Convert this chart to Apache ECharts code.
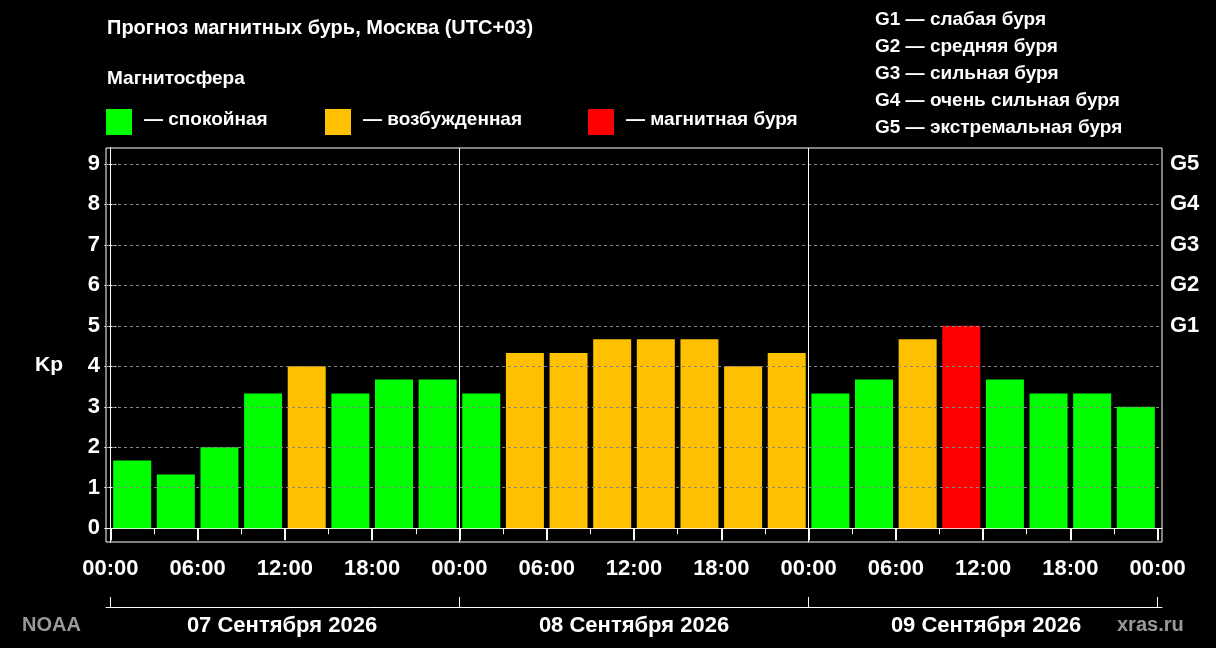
<!DOCTYPE html><html><head><meta charset="utf-8">
<script src="https://cdn.jsdelivr.net/npm/echarts@6/dist/echarts.min.js"></script>
<style>html,body{margin:0;background:#000}#c{width:1216px;height:648px}</style></head><body><div id="c"></div>
<script>
const kp=[1.67,1.33,2,3.33,4,3.33,3.67,3.67, 3.33,4.33,4.33,4.67,4.67,4.67,4,4.33, 3.33,3.67,4.67,5,3.67,3.33,3.33,3];
const level=['q','q','q','q','a','q','q','q', 'q','a','a','a','a','a','a','a', 'q','q','a','s','q','q','q','q'];
const days=['07 Сентября 2026','08 Сентября 2026','09 Сентября 2026'];
const gLabels={5:'G1',6:'G2',7:'G3',8:'G4',9:'G5'};
const gLegend=['G1 — слабая буря','G2 — средняя буря','G3 — сильная буря','G4 — очень сильная буря','G5 — экстремальная буря'];
const colors={q:'#00ff00',a:'#ffc000',s:'#ff0000'};
const F='"Liberation Sans", Arial, sans-serif';
const ch=echarts.init(document.getElementById('c'));
const r=(a,b,s)=>{const o=[];for(let v=a;v<=b;v+=s)o.push(v);return o;};
const xBase={type:'value',min:-0.3,max:72.3,gridIndex:0,position:'bottom'};
const lbl={color:'#fff',fontFamily:F,fontWeight:'bold',fontSize:22};
const gfx=[
 {type:'text',left:107,top:18,style:{text:'Прогноз магнитных бурь, Москва (UTC+03)',fill:'#fff',font:'bold 20px '+F}},
 {type:'text',left:107,top:69,style:{text:'Магнитосфера',fill:'#fff',font:'bold 19px '+F}},
 {type:'text',left:35,top:355,style:{text:'Kp',fill:'#fff',font:'bold 21px '+F}},
 {type:'text',left:22,top:615,style:{text:'NOAA',fill:'#999',font:'bold 20px '+F}},
 {type:'text',left:1117,top:615,style:{text:'xras.ru',fill:'#999',font:'bold 20px '+F}}
];
[['q','— спокойная',106],['a','— возбужденная',325],['s','— магнитная буря',588]].forEach(([k,t,x])=>{
 gfx.push({type:'rect',shape:{x:x,y:109,width:26,height:26},style:{fill:colors[k]}});
 gfx.push({type:'text',left:x+38,top:110,style:{text:t,fill:'#fff',font:'bold 19px '+F}});
});
gLegend.forEach((t,i)=>gfx.push({type:'text',left:875,top:10+i*27,style:{text:t,fill:'#fff',font:'bold 19px '+F}}));
ch.setOption({
 backgroundColor:'#000',animation:false,
 grid:{left:106,right:54,top:148,bottom:106,show:true,borderColor:'#fff',borderWidth:1,backgroundColor:'transparent'},
 xAxis:[
  Object.assign({},xBase,{axisLine:{lineStyle:{color:'#fff'}},axisTick:{length:6,lineStyle:{color:'#fff'},customValues:r(0,72,3)},axisLabel:{show:false},splitLine:{show:false}}),
  Object.assign({},xBase,{axisLine:{show:false},axisTick:{length:12,lineStyle:{color:'#fff',width:2},customValues:r(0,72,6)},
   axisLabel:Object.assign({},lbl,{margin:16,customValues:r(0,72,6),formatter:v=>String(Math.round(v)%24===0?0:Math.round(v)%24).padStart(2,'0')+':00'}),splitLine:{show:false}}),
  Object.assign({},xBase,{offset:65,axisLine:{show:true,lineStyle:{color:'#fff'}},axisTick:{inside:true,length:10,lineStyle:{color:'#fff'},customValues:[0,24,48,72]},axisLabel:{show:false},splitLine:{show:false}}),
  {type:'category',data:days,gridIndex:0,position:'bottom',offset:65,axisLine:{show:false},axisTick:{show:false},axisLabel:Object.assign({},lbl,{margin:8})}
 ],
 yAxis:[
  {type:'value',min:-0.34,max:9.39,position:'left',axisLine:{show:true,lineStyle:{color:'#fff'}},axisTick:{show:true,length:6,lineStyle:{color:'#fff'},customValues:r(0,9,1)},
   axisLabel:Object.assign({},lbl,{margin:6,customValues:r(0,9,1)}),splitLine:{show:false}},
  {type:'value',min:-0.34,max:9.39,position:'right',axisLine:{show:true,lineStyle:{color:'#fff'}},axisTick:{show:true,length:6,lineStyle:{color:'#fff'},customValues:r(0,9,1)},
   axisLabel:Object.assign({},lbl,{margin:8,customValues:[5,6,7,8,9],formatter:v=>gLabels[Math.round(v)]||''}),splitLine:{show:false}}
 ],
 graphic:gfx,
 series:[
  {type:'line',xAxisIndex:0,yAxisIndex:0,data:[],silent:true,
   markLine:{silent:true,symbol:'none',label:{show:false},lineStyle:{color:'#888',type:[3,3],width:1},data:r(1,9,1).map(v=>({yAxis:v}))}},
  {type:'line',xAxisIndex:0,yAxisIndex:0,data:[],silent:true,
   markLine:{silent:true,symbol:'none',label:{show:false},lineStyle:{color:'#fff',type:'solid',width:1},data:[{xAxis:24},{xAxis:48}]}},
  {type:'bar',xAxisIndex:0,yAxisIndex:0,barWidth:38,z:3,
   data:kp.map((v,i)=>({value:[1.5+3*i,v],itemStyle:{color:colors[level[i]]}}))}
 ]
});
</script></body></html>
